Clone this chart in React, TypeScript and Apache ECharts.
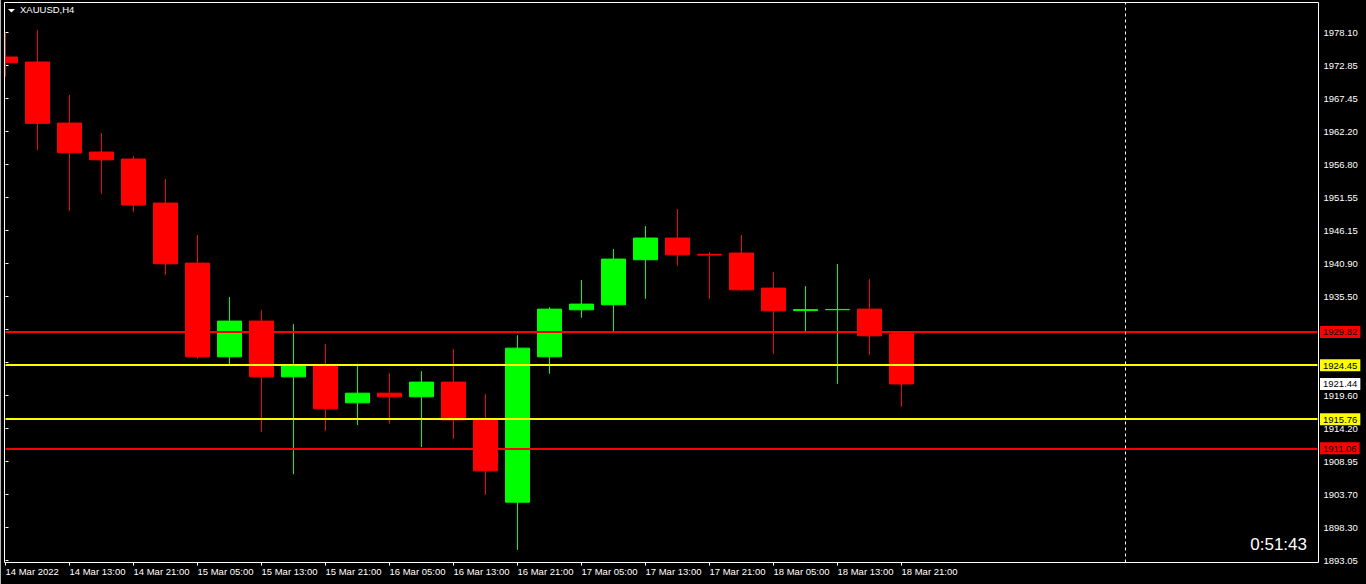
import React, { useEffect, useRef } from 'react';
import * as echarts from 'echarts';

const symbolLabel = 'XAUUSD,H4';
const timerLabel = '0:51:43';

const xTickLabels = [
  '14 Mar 2022', '14 Mar 13:00', '14 Mar 21:00', '15 Mar 05:00', '15 Mar 13:00',
  '15 Mar 21:00', '16 Mar 05:00', '16 Mar 13:00', '16 Mar 21:00', '17 Mar 05:00',
  '17 Mar 13:00', '17 Mar 21:00', '18 Mar 05:00', '18 Mar 13:00', '18 Mar 21:00',
];

const barOpen = [
  1974.15, 1973.34, 1963.50, 1958.83, 1957.70, 1950.60, 1940.92, 1925.81, 1931.57, 1922.58,
  1924.36, 1918.39, 1919.95, 1919.36, 1921.73, 1915.76, 1902.37, 1925.81, 1933.39, 1934.20,
  1941.46, 1944.96, 1942.33, 1942.54, 1936.89, 1933.26, 1933.40, 1933.50, 1929.52,
];
const barClose = [
  1973.23, 1963.45, 1958.71, 1957.58, 1950.28, 1940.81, 1925.81, 1931.57, 1922.58, 1924.36,
  1917.42, 1919.95, 1919.36, 1921.73, 1915.65, 1907.42, 1927.21, 1933.50, 1934.31, 1941.57,
  1944.96, 1942.26, 1942.21, 1936.62, 1933.23, 1933.42, 1933.45, 1929.20, 1921.44,
];
const barLow = [
  1970.97, 1959.15, 1949.36, 1952.10, 1949.20, 1939.04, 1925.49, 1924.47, 1913.70, 1906.89,
  1913.83, 1914.80, 1915.00, 1911.25, 1912.58, 1903.55, 1894.68, 1923.07, 1932.10, 1929.84,
  1935.16, 1940.49, 1935.16, 1936.46, 1926.29, 1929.84, 1921.45, 1926.13, 1917.75,
];
const barHigh = [
  1978.02, 1978.50, 1968.02, 1961.89, 1958.18, 1954.47, 1945.44, 1935.44, 1933.34, 1931.08,
  1927.86, 1924.68, 1923.18, 1923.50, 1927.05, 1919.79, 1929.31, 1933.83, 1938.18, 1943.18,
  1946.89, 1949.63, 1942.70, 1945.44, 1939.47, 1937.21, 1940.76, 1938.34, 1929.68,
];

const totalSlots = 42;
const separatorSlot = 35;

const yTickLabels = [
  '1893.05', '1898.30', '1903.70', '1908.95', '1914.20', '1919.60', '', '',
  '1935.50', '1940.90', '1946.15', '1951.55', '1956.80', '1962.20', '1967.45', '1972.85', '1978.10',
];
const yTickMin = 1893.05;
const yTickMax = 1978.10;

const levelValues = [1929.82, 1924.45, 1915.76, 1911.06];
const levelColors = ['#FF0000', '#FFFF00', '#FFFF00', '#FF0000'];
const currentPrice = 1921.44;

export default function App() {
  const ref = useRef<HTMLDivElement>(null);
  useEffect(() => {
    const chart = echarts.init(ref.current!, null, { renderer: 'svg' });
    const font = 'Liberation Sans';
    const categories = Array.from({ length: totalSlots }, (_, i) =>
      i % 2 === 0 && xTickLabels[i / 2] ? xTickLabels[i / 2] : ''
    );
    const candles = barOpen.map((o, i) => [o, barClose[i], barLow[i], barHigh[i]]);
    const tickStep = (yTickMax - yTickMin) / (yTickLabels.length - 1);
    const pxPerUnit = (560 - 32.5) / (yTickMax - yTickMin);
    const yMin0 = yTickMin - 2.5 / pxPerUnit;
    const yMax0 = yTickMax + 30 / pxPerUnit;
    const showSlot = (_i: number, v: string) => v !== '';

    const boxLabel = (bg: string) => ({
      show: true,
      position: 'end',
      distance: 2.5,
      formatter: (p: any) => Number(p.value).toFixed(2),
      backgroundColor: bg,
      color: '#000',
      fontSize: 9.5,
      fontFamily: font,
      lineHeight: 11,
      padding: [1, 3, 0, 3],
    });

    const markData: any[] = levelValues.map((v, i) => ({
      yAxis: v,
      lineStyle: { color: levelColors[i], width: 2, type: 'solid' },
      label: boxLabel(levelColors[i]),
    }));
    markData.push({
      yAxis: currentPrice,
      lineStyle: { color: 'rgba(0,0,0,0)', width: 0 },
      label: boxLabel('#FFFFFF'),
    });
    markData.push({
      xAxis: separatorSlot,
      lineStyle: { color: '#FFFFFF', width: 1, type: [3, 3] },
      label: { show: false },
    });

    chart.setOption({
      animation: false,
      backgroundColor: '#000000',
      title: {
        text: symbolLabel,
        left: 20,
        top: 4.5,
        padding: 0,
        textStyle: { color: '#FFFFFF', fontSize: 9.5, fontFamily: font, fontWeight: 'normal' },
      },
      grid: [
        { left: 5.5, right: 48.5, top: 2.5, bottom: 21.5 },
        { left: 5.5, right: 48.5, top: 32.5, bottom: 24 },
      ],
      xAxis: [
        {
          type: 'category',
          gridIndex: 0,
          data: categories,
          boundaryGap: false,
          axisLine: { show: false },
          axisTick: { show: true, interval: showSlot, length: 3, lineStyle: { color: '#FFFFFF' } },
          axisLabel: {
            interval: showSlot,
            align: 'left',
            color: '#FFFFFF',
            fontSize: 9.5,
            fontFamily: font,
            margin: 4,
          },
          splitLine: { show: false },
        },
        { type: 'value', gridIndex: 1, show: false, min: 0, max: 1 },
      ],
      yAxis: [
        { type: 'value', gridIndex: 0, show: false, min: yMin0, max: yMax0, splitLine: { show: false } },
        {
          type: 'value',
          gridIndex: 1,
          position: 'right',
          min: yTickMin,
          max: yTickMax,
          interval: tickStep,
          axisLine: { show: false },
          axisTick: { show: true, length: 3, lineStyle: { color: '#FFFFFF' } },
          axisLabel: {
            color: '#FFFFFF',
            fontSize: 9.5,
            fontFamily: font,
            margin: 6,
            formatter: (v: number) => yTickLabels[Math.round((v - yTickMin) / tickStep)] ?? '',
          },
          splitLine: { show: false },
        },
      ],
      series: [
        {
          type: 'candlestick',
          xAxisIndex: 0,
          yAxisIndex: 0,
          data: candles,
          barWidth: 24,
          clip: true,
          itemStyle: {
            color: '#00FF00',
            color0: '#FF0000',
            borderColor: '#00FF00',
            borderColor0: '#FF0000',
            borderWidth: 1,
          },
          markLine: {
            symbol: 'none',
            silent: true,
            animation: false,
            data: markData,
          },
        },
      ],
      graphic: [
        {
          type: 'rect',
          shape: { x: 0, y: 0, width: 5, height: 584 },
          style: { fill: '#000000' },
          silent: true,
          z: 9,
        },
        {
          type: 'line',
          shape: { x1: 0.5, y1: 0, x2: 0.5, y2: 584 },
          style: { stroke: '#B4B4B4', lineWidth: 1 },
          silent: true,
          z: 10,
        },
        {
          type: 'rect',
          shape: { x: 4.5, y: 2.5, width: 1314, height: 560 },
          style: { fill: null, stroke: '#FFFFFF', lineWidth: 1 },
          silent: true,
          z: 10,
        },
        {
          type: 'polygon',
          shape: { points: [[8, 9], [15, 9], [11.5, 12.5]] },
          style: { fill: '#FFFFFF' },
          silent: true,
          z: 10,
        },
        {
          type: 'text',
          x: 1307,
          y: 544,
          style: {
            text: timerLabel,
            fill: '#FFFFFF',
            fontSize: 17,
            fontFamily: font,
            align: 'right',
            verticalAlign: 'middle',
          },
          silent: true,
        },
      ],
    });
    return () => chart.dispose();
  }, []);
  return (
    <div
      ref={ref}
      style={{ position: 'fixed', left: 0, top: 0, width: 1366, height: 584, background: '#000' }}
    />
  );
}
